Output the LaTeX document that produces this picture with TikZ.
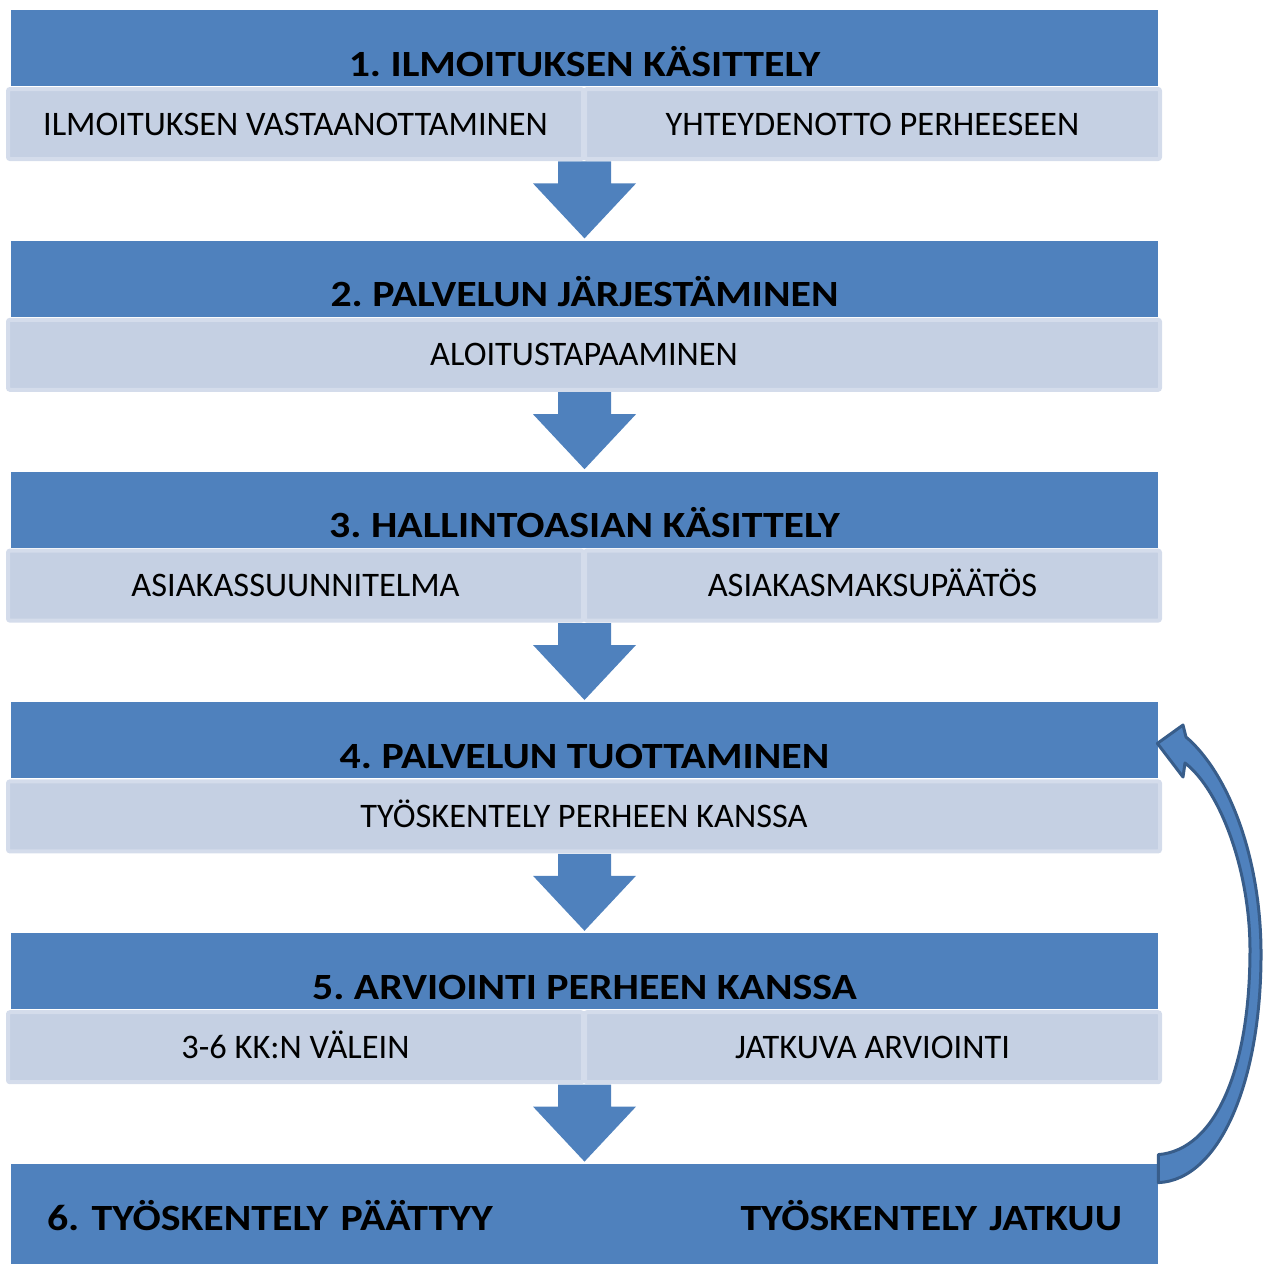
\documentclass[tikz,border=0pt]{standalone}
\usepackage{fontspec}
\setmainfont{Carlito}
\newfontfamily\hdrfont[FakeStretch=1.13]{Carlito}
\usetikzlibrary{positioning,calc}
\definecolor{hblue}{RGB}{79,129,189}
\definecolor{sfill}{RGB}{197,208,227}
\definecolor{sline}{RGB}{212,220,235}
\definecolor{aline}{RGB}{56,93,138}
\tikzset{
  hdr/.style={rectangle,fill=hblue,minimum width=573.5pt,minimum height=38pt,
    inner sep=0pt,text height=33pt,text depth=5pt,
    font=\fontsize{18.5}{22}\hdrfont\bfseries\frenchspacing},
  sub/.style={rectangle,rounded corners=1pt,fill=sfill,draw=sline,line width=2pt,
    minimum width=#1,minimum height=35pt,inner sep=0pt,text height=11pt,
    text depth=0pt,font=\fontsize{17.2}{20}\selectfont},
  sub/.default=576pt,
  dnarr/.style={fill=hblue},
  carr/.style={fill=hblue,draw=aline,line width=1.5pt,line join=round},
}
\begin{document}
\begin{tikzpicture}[x=0.5pt,y=-0.5pt]
  \useasboundingbox (0,0) rectangle (1264,1264);

  % steps
  \node[hdr] (h1) at (584.5,48) {1. ILMOITUKSEN KÄSITTELY};
  \node[hdr] (h2) at (584.5,278.8) {2. PALVELUN JÄRJESTÄMINEN};
  \node[hdr] (h3) at (584.5,509.6) {3. HALLINTOASIAN KÄSITTELY};
  \node[hdr] (h4) at (584.5,740.4) {4. PALVELUN TUOTTAMINEN};
  \node[hdr] (h5) at (584.5,971.2) {5. ARVIOINTI PERHEEN KANSSA};
  \node[hdr,minimum height=50pt,text height=33pt,text depth=17pt,
    text width=537.5pt,align=left] (h6) at (584.5,1214)
    {6. TYÖSKENTELY PÄÄTTYY\hfill TYÖSKENTELY JATKUU};

  % arrows between the steps
  \foreach \a/\b in {h1/h2,h2/h3,h3/h4,h4/h5,h5/h6}
    \fill[dnarr] ($(\a.south)+(-26.5,75)$) -- ($(\b.north)+(-26.5,-57)$)
      -- ($(\b.north)+(-51.5,-57)$) -- ($(\b.north)+(0,-2)$)
      -- ($(\b.north)+(51.5,-57)$) -- ($(\b.north)+(26.5,-57)$)
      -- ($(\a.south)+(26.5,75)$) -- cycle;

  % sub-tasks
  \node[sub=287.5pt] (s1a) at (295.5,124) {ILMOITUKSEN VASTAANOTTAMINEN};
  \node[sub=287.5pt] (s1b) at (872.5,124) {YHTEYDENOTTO PERHEESEEN};
  \node[sub] (s2) at (584,354.8) {ALOITUSTAPAAMINEN};
  \node[sub=287.5pt] (s3a) at (295.5,585.6) {ASIAKASSUUNNITELMA};
  \node[sub=287.5pt] (s3b) at (872.5,585.6) {ASIAKASMAKSUPÄÄTÖS};
  \node[sub] (s4) at (584,816.4) {TYÖSKENTELY PERHEEN KANSSA};
  \node[sub=287.5pt] (s5a) at (295.5,1047.2) {3-6 KK:N VÄLEIN};
  \node[sub=287.5pt] (s5b) at (872.5,1047.2) {JATKUVA ARVIOINTI};

  % back to step 4
  \coordinate (cb) at ($(h6.north east)+(0,19)$);
  \coordinate (ct) at ($(h6.north east)+(0,-9)$);
  \coordinate (tip) at ($(h4.east)+(-1,3)$);
  \draw[carr] (cb) .. controls (1220,1180) and (1262,1080) .. (1261,950)
    .. controls (1260,850) and (1225,770) .. (1186,737) -- (1183,725)
    -- (tip) -- (1183,777) -- (1185,763)
    .. controls (1220,790) and (1250,870) .. (1250,950)
    .. controls (1250,1070) and (1215,1150) .. (ct) -- cycle;
\end{tikzpicture}
\end{document}
